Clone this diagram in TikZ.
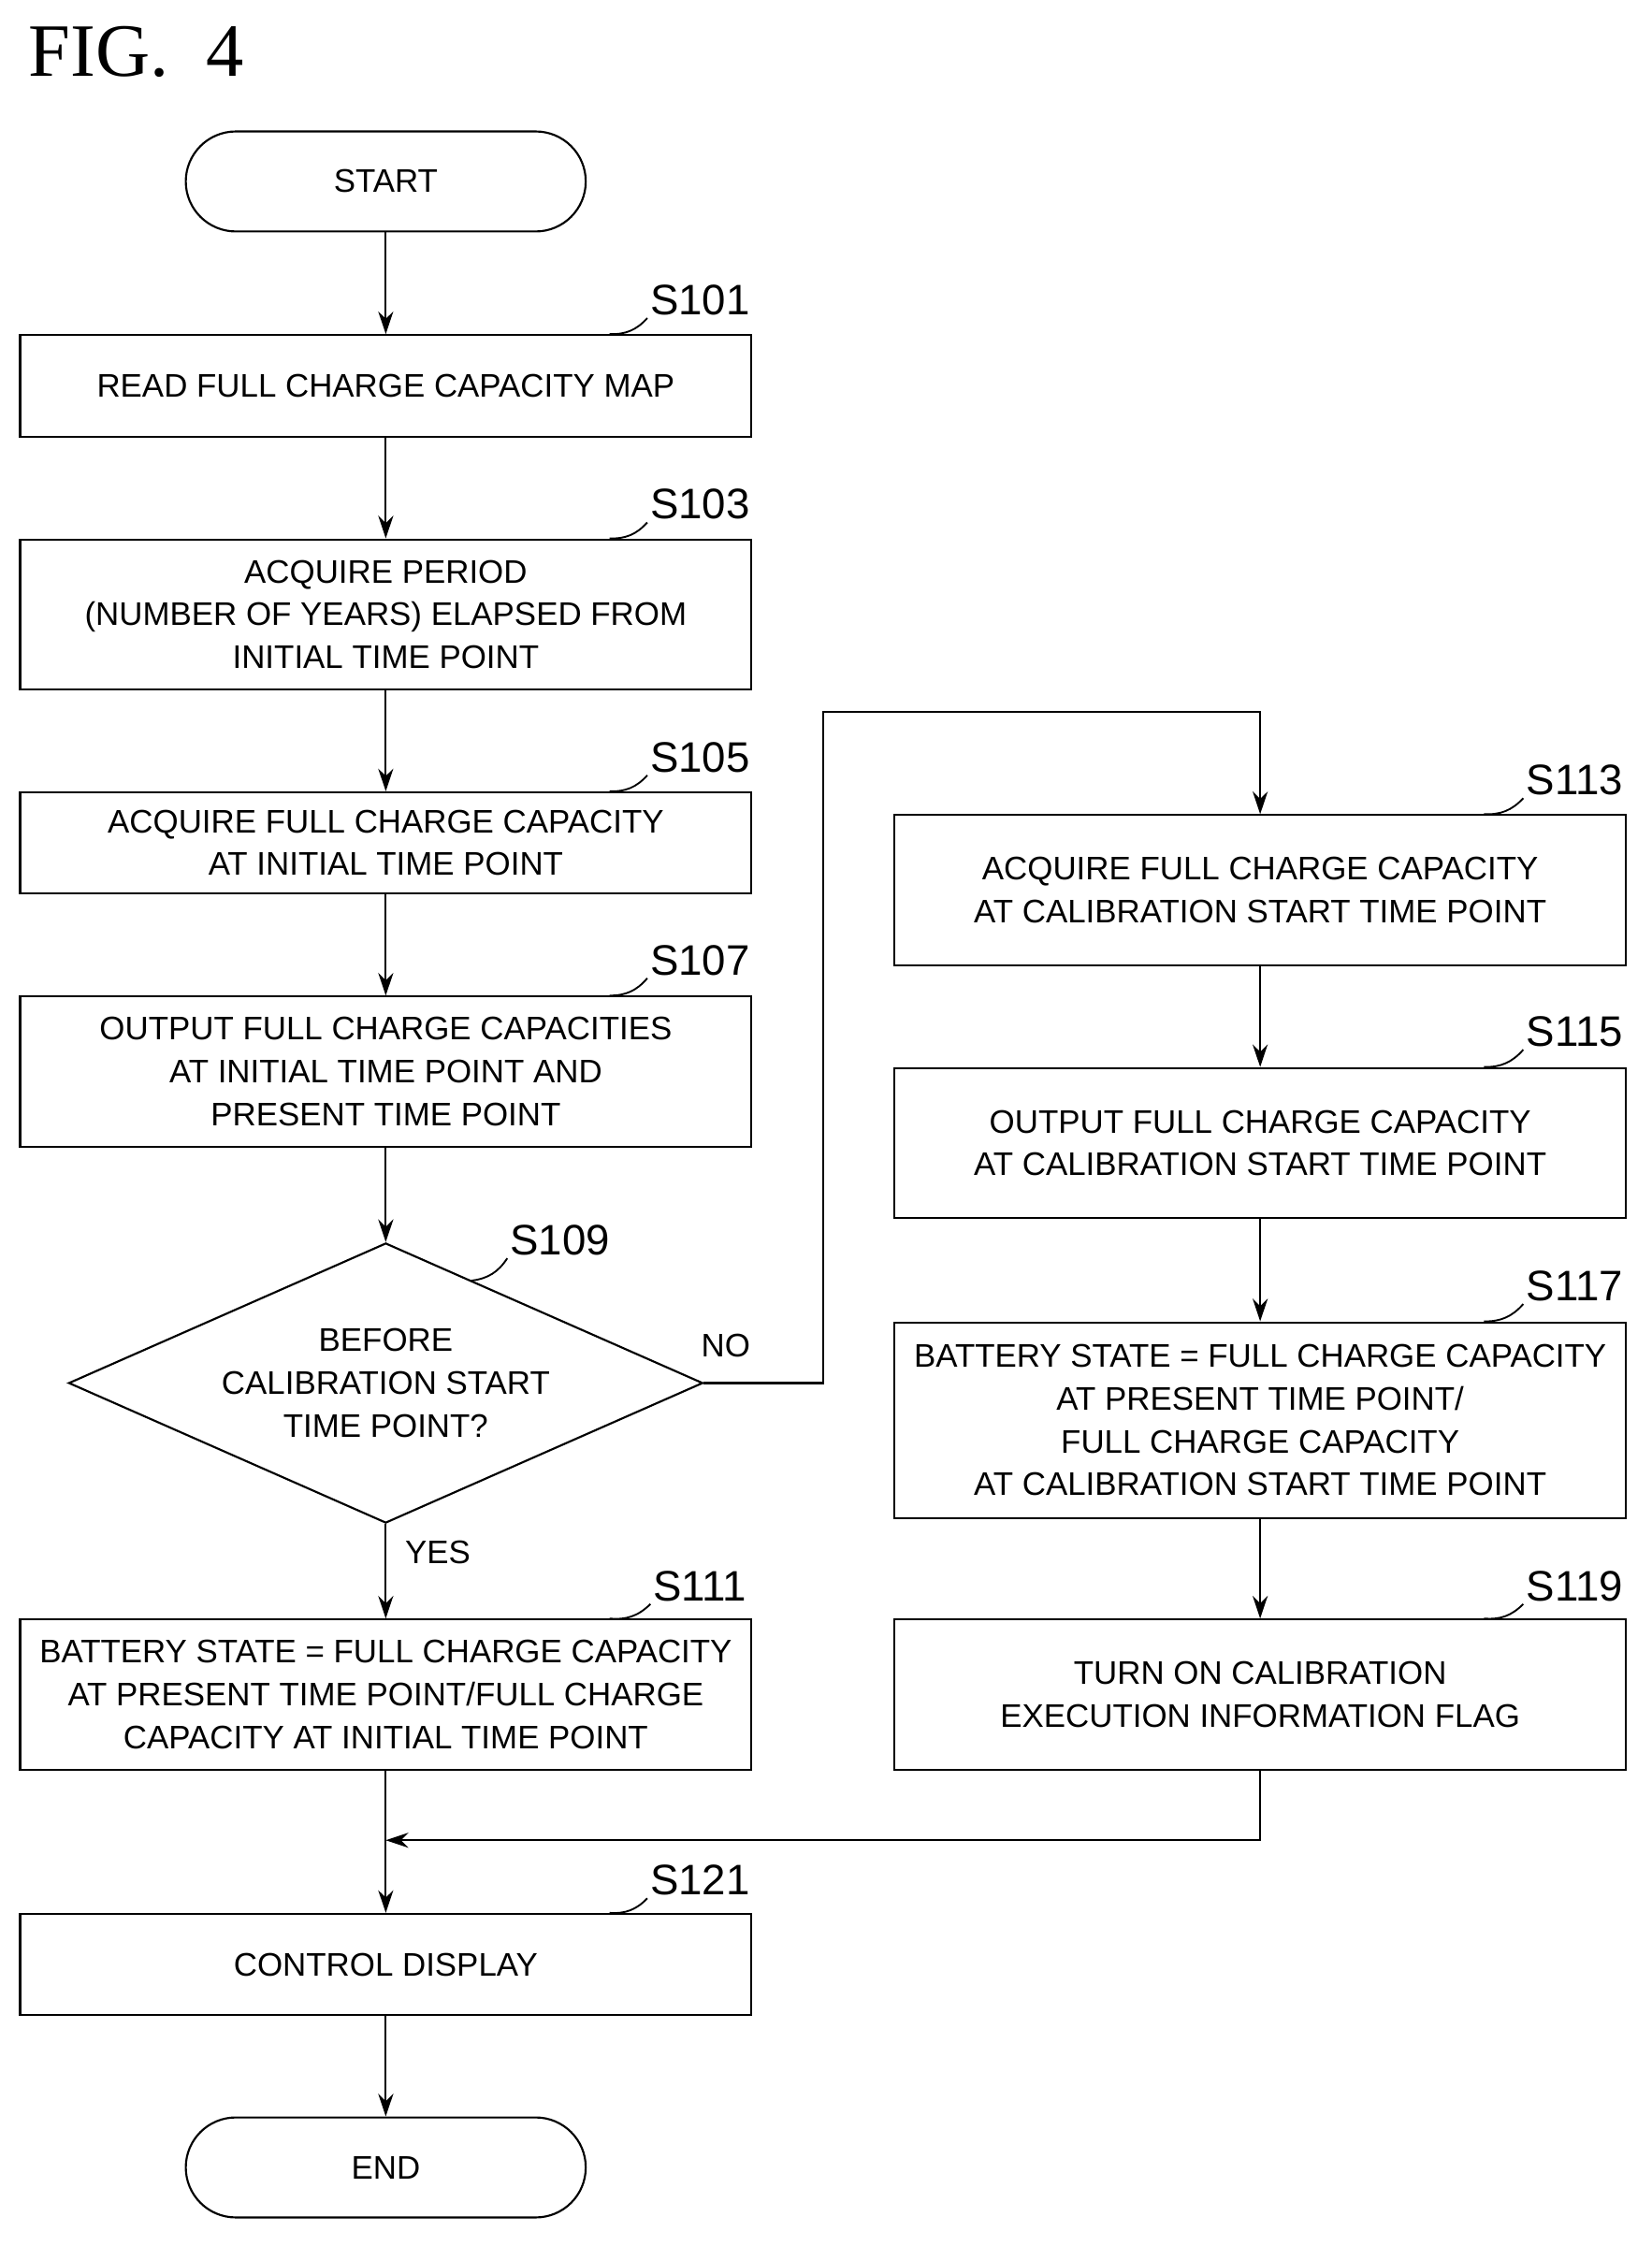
\documentclass[tikz,border=0pt]{standalone}
\usepackage{fontspec}
\setmainfont{Liberation Sans}
\newfontfamily\titlefont{Liberation Serif}
\usetikzlibrary{shapes.geometric,calc,arrows.meta}

\begin{document}
\begin{tikzpicture}[x=0.02cm,y=-0.02cm,
  every node/.style={font=\fontsize{13}{17}\selectfont, align=center},
  procbox/.style={draw, line width=0.8pt, minimum width=10.24cm, inner sep=2pt},
  term/.style={draw, line width=0.8pt, rounded corners=0.7cm, minimum width=5.6cm, minimum height=1.4cm},
  decision/.style={draw, line width=0.8pt, diamond, aspect=2.26, minimum width=8.88cm, minimum height=3.92cm, inner sep=0pt},
  steplbl/.style={font=\fontsize{17}{20}\selectfont, inner sep=1pt},
  flow/.style={draw, line width=0.8pt, -{Stealth[length=9pt,width=6pt]}},
  tick/.style={draw, line width=0.7pt}]
  \useasboundingbox (0,0) rectangle (1156,1572);

  % title
  \node[font=\titlefont\fontsize{30}{34}\selectfont, anchor=west] (fig) at (14,36) {FIG.\ \ 4};

  % left column
  \node[term] (start) at (270,127) {START};
  \node[procbox, minimum height=1.42cm] (s101) at (270,270) {READ FULL CHARGE CAPACITY MAP};
  \node[procbox, minimum height=2.1cm] (s103) at (270,430) {ACQUIRE PERIOD\\(NUMBER OF YEARS) ELAPSED FROM\\INITIAL TIME POINT};
  \node[procbox, minimum height=1.42cm] (s105) at (270,590) {ACQUIRE FULL CHARGE CAPACITY\\AT INITIAL TIME POINT};
  \node[procbox, minimum height=2.1cm] (s107) at (270,750) {OUTPUT FULL CHARGE CAPACITIES\\AT INITIAL TIME POINT AND\\PRESENT TIME POINT};
  \node[decision] (s109) at (270,968) {BEFORE\\CALIBRATION START\\TIME POINT?};
  \node[procbox, minimum height=2.1cm] (s111) at (270,1186) {BATTERY STATE = FULL CHARGE CAPACITY\\AT PRESENT TIME POINT/FULL CHARGE\\CAPACITY AT INITIAL TIME POINT};
  \node[procbox, minimum height=1.42cm] (s121) at (270,1375) {CONTROL DISPLAY};
  \node[term] (end) at (270,1517) {END};

  % right column
  \node[procbox, minimum height=2.1cm] (s113) at (882,623) {ACQUIRE FULL CHARGE CAPACITY\\AT CALIBRATION START TIME POINT};
  \node[procbox, minimum height=2.1cm] (s115) at (882,800) {OUTPUT FULL CHARGE CAPACITY\\AT CALIBRATION START TIME POINT};
  \node[procbox, minimum height=2.74cm] (s117) at (882,994) {BATTERY STATE = FULL CHARGE CAPACITY\\AT PRESENT TIME POINT/\\FULL CHARGE CAPACITY\\AT CALIBRATION START TIME POINT};
  \node[procbox, minimum height=2.1cm] (s119) at (882,1186) {TURN ON CALIBRATION\\EXECUTION INFORMATION FLAG};

  % step labels
  \foreach \s/\t/\lx/\ly in {s101/S101/490/210, s103/S103/490/353, s105/S105/490/530, s107/S107/490/672, s111/S111/490/1110, s121/S121/490/1316,
                          s113/S113/1102/546, s115/S115/1102/722, s117/S117/1102/900, s119/S119/1102/1110}{
    \node[steplbl] (l\s) at (\lx,\ly) {\t};
    \draw[tick] ($(\s.north east)+(-100,0)$) to[bend right=25] (l\s.south west);
  }
  \node[steplbl] (l109) at (392,868) {S109};
  \draw[tick] ($(s109.north)+(60,27)$) to[bend right=25] (l109.south west);

  % connectors
  \path[flow] (start) -- (s101);
  \path[flow] (s101) -- (s103);
  \path[flow] (s103) -- (s105);
  \path[flow] (s105) -- (s107);
  \path[flow] (s107) -- (s109);
  \path[flow] (s109) -- node[pos=0.3, right=4pt] (yes) {YES} (s111);
  \path[flow] (s111) -- (s121);
  \path[flow] (s121) -- (end);
  \coordinate (nobend) at (576,498);
  \path[flow] (s109.east) -- (s109.east -| nobend) |- (nobend -| s113) -- (s113.north);
  \node (no) at (508,942) {NO};
  \path[flow] (s113) -- (s115);
  \path[flow] (s115) -- (s117);
  \path[flow] (s117) -- (s119);
  \coordinate (merge) at (270,1288);
  \path[flow] (s119.south) |- (merge);
\end{tikzpicture}
\end{document}
